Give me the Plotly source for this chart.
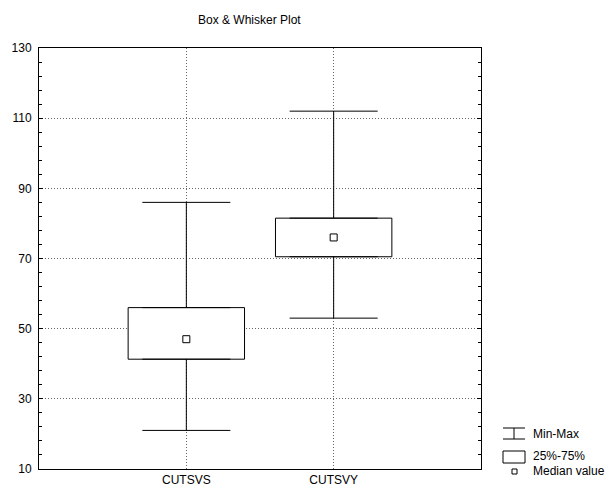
import plotly.graph_objects as go

# ---- data ----
categories = ["CUTSVS", "CUTSVY"]
min_vals = [21, 53]
q1_vals = [41.3, 70.5]
median_vals = [47, 76]
q3_vals = [56, 81.5]
max_vals = [86, 112]

y_ticks = [10, 30, 50, 70, 90, 110, 130]

positions = list(range(len(categories)))
FONT = "Liberation Sans, Arial, sans-serif"

fig = go.Figure()

# boxes (25%-75%)
fig.add_trace(go.Bar(
    x=positions,
    base=q1_vals,
    y=[q3 - q1 for q1, q3 in zip(q1_vals, q3_vals)],
    width=0.79,
    marker=dict(color="white", line=dict(color="black", width=1)),
    showlegend=False, hoverinfo="skip",
))

# upper whiskers
fig.add_trace(go.Scatter(
    x=positions, y=q3_vals, mode="markers",
    marker=dict(size=1, opacity=0),
    error_y=dict(type="data", symmetric=False,
                 array=[mx - q3 for mx, q3 in zip(max_vals, q3_vals)],
                 arrayminus=[0] * len(categories),
                 width=44, thickness=1, color="black"),
    showlegend=False, hoverinfo="skip",
))
# lower whiskers
fig.add_trace(go.Scatter(
    x=positions, y=q1_vals, mode="markers",
    marker=dict(size=1, opacity=0),
    error_y=dict(type="data", symmetric=False,
                 array=[0] * len(categories),
                 arrayminus=[q1 - mn for q1, mn in zip(q1_vals, min_vals)],
                 width=44, thickness=1, color="black"),
    showlegend=False, hoverinfo="skip",
))
# medians
fig.add_trace(go.Scatter(
    x=positions, y=median_vals, mode="markers",
    marker=dict(symbol="square-open", size=7, color="black",
                line=dict(width=1, color="black")),
    showlegend=False, hoverinfo="skip",
))

# ---- layout ----
# the page body adds an 8px offset, so the figure is drawn 8px smaller
OFF = 8
L, R, T, B = 39 - OFF, 133, 48 - OFF, 22
W, H = 614 - OFF, 491 - OFF
pw, ph = W - L - R, H - T - B


def px(xp):
    return (xp - OFF - L) / pw


def py(yp):
    return (H - B - (yp - OFF)) / ph


shapes = [
    # Min-Max symbol
    dict(type="line", xref="paper", yref="paper", x0=px(503), x1=px(525), y0=py(428), y1=py(428),
         line=dict(color="black", width=1)),
    dict(type="line", xref="paper", yref="paper", x0=px(503), x1=px(525), y0=py(439), y1=py(439),
         line=dict(color="black", width=1)),
    dict(type="line", xref="paper", yref="paper", x0=px(514), x1=px(514), y0=py(428), y1=py(439),
         line=dict(color="black", width=1)),
    # 25-75 rect
    dict(type="rect", xref="paper", yref="paper", x0=px(503), x1=px(525), y0=py(451), y1=py(463),
         line=dict(color="black", width=1), fillcolor="white"),
    # median square
    dict(type="rect", xref="paper", yref="paper", x0=px(512), x1=px(517), y0=py(469), y1=py(474),
         line=dict(color="black", width=1), fillcolor="white"),
]

legend_labels = ["Min-Max", "25%-75%", "Median value"]
legend_y = [434, 456, 471]
annotations = [
    dict(text=t, xref="paper", yref="paper", x=px(531), y=py(yy), xanchor="left", yanchor="middle",
         showarrow=False, font=dict(family=FONT, size=12, color="black"))
    for t, yy in zip(legend_labels, legend_y)
]
annotations.append(dict(text="Box & Whisker Plot", xref="paper", yref="paper",
                        x=px(249), y=py(20), xanchor="center", yanchor="middle",
                        showarrow=False, font=dict(family=FONT, size=12, color="black")))

GRID = dict(showgrid=True, griddash="1px,2px", gridcolor="#666", gridwidth=1)

fig.update_layout(
    width=W, height=H,
    margin=dict(l=L, r=R, t=T, b=B, autoexpand=False),
    template="none",
    plot_bgcolor="white", paper_bgcolor="white",
    font=dict(family=FONT, size=12, color="black"),
    shapes=shapes, annotations=annotations,
    showlegend=False,
    xaxis=dict(range=[-1, 2], tickmode="array", tickvals=positions, ticktext=categories,
               showline=True, linecolor="black", linewidth=1, mirror=True,
               ticks="", zeroline=False, automargin=False,
               tickfont=dict(family=FONT, size=12, color="black"), **GRID),
    yaxis=dict(range=[10, 130], tickmode="array", tickvals=y_ticks,
               showline=True, linecolor="black", linewidth=1, mirror="allticks",
               ticks="inside", ticklen=4, tickcolor="black", zeroline=False, automargin=False,
               ticklabelstandoff=4,
               minor=dict(dtick=4, tick0=10, ticks="inside", ticklen=3, tickcolor="black", showgrid=False),
               tickfont=dict(family=FONT, size=12, color="black"), **GRID),
)

fig.write_html("out.html")
